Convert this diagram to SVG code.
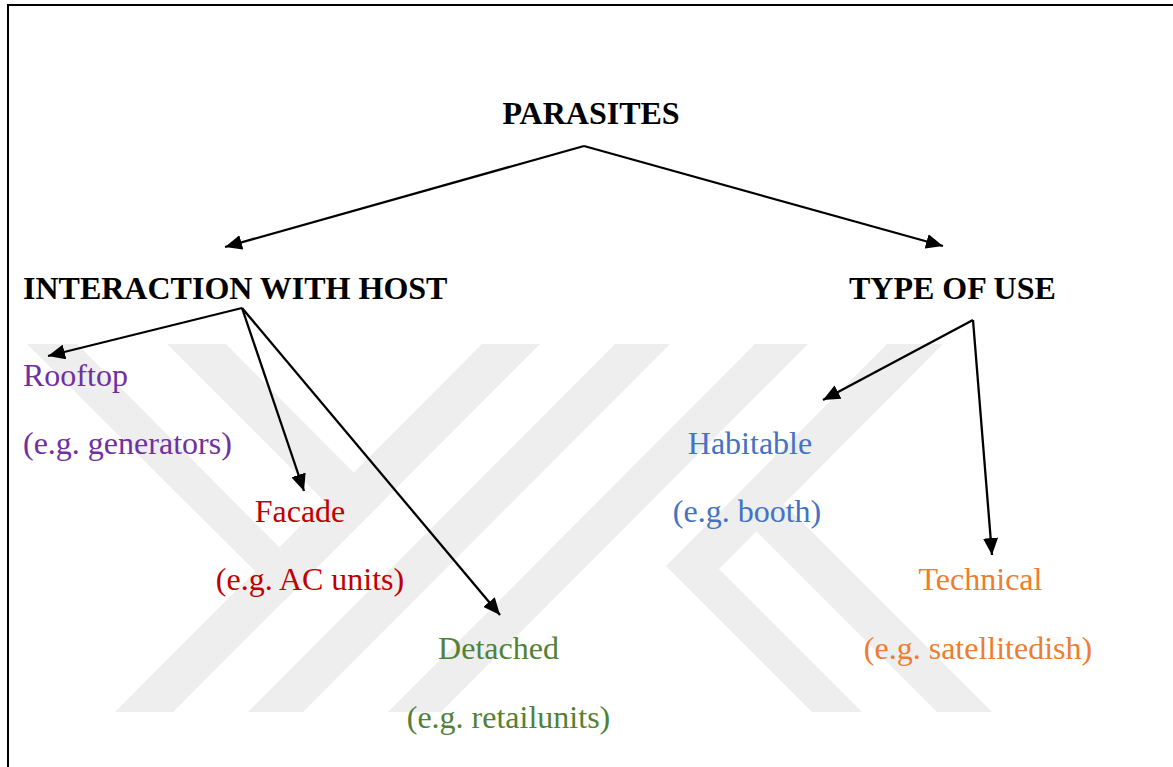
<svg xmlns="http://www.w3.org/2000/svg" width="1173" height="767" viewBox="0 0 1173 767">
  <style>
    .hdr { font-family: "Liberation Serif", "Times New Roman", serif; font-weight: bold; font-size: 32px; fill: #000; }
    .lbl { font-family: "Liberation Serif", "Times New Roman", serif; font-size: 32px; }
    .wm { fill: #eeeeee; }
    .edge { stroke: #000; stroke-width: 2.3; fill: none; marker-end: url(#arrow); }
    .border { stroke: #000; stroke-width: 2; fill: none; }
  </style>
  <defs>
    <marker id="arrow" markerUnits="userSpaceOnUse" markerWidth="18" markerHeight="15" refX="17" refY="7.5" orient="auto" viewBox="0 0 18 15">
      <path d="M0,0 L17,7.5 L0,15 Z" fill="#000"/>
    </marker>
  </defs>
  <rect x="0" y="0" width="1173" height="767" fill="#fff"/>
  <g id="watermark">
    <polygon class="wm" points="27,344 77,344 308.5,576.5 284.5,600.5"/>
    <polygon class="wm" points="167,344 226,344 368.5,487.5 339.5,516.5"/>
    <polygon class="wm" points="482,344 540,344 173,712 115,712"/>
    <polygon class="wm" points="615,344 670,344 303,712 248,712"/>
    <polygon class="wm" points="755,344 808,344 441,712 388,712"/>
    <polygon class="wm" points="887,344 943,344 719,569 862,712 812,712 666,566"/>
    <polygon class="wm" points="742.5,517.5 770,490 992,712 937,712"/>
  </g>
  <g id="border">
    <line class="border" x1="7" y1="5" x2="1173" y2="5"/>
    <line class="border" x1="8" y1="4" x2="8" y2="767"/>
  </g>
  <g id="connectors">
    <line class="edge" x1="584" y1="146" x2="225" y2="247"/>
    <line class="edge" x1="584" y1="146" x2="943" y2="246"/>
    <line class="edge" x1="242" y1="308" x2="48" y2="356"/>
    <line class="edge" x1="242" y1="308" x2="304" y2="491"/>
    <line class="edge" x1="242" y1="308" x2="500" y2="615"/>
    <line class="edge" x1="973" y1="320" x2="823" y2="400"/>
    <line class="edge" x1="973" y1="320" x2="992" y2="555"/>
  </g>
  <g id="node-parasites">
    <text class="hdr" x="591" y="124" text-anchor="middle">PARASITES</text>
  </g>
  <g id="node-interaction">
    <text class="hdr" x="23" y="299">INTERACTION WITH HOST</text>
  </g>
  <g id="node-type">
    <text class="hdr" x="849" y="299">TYPE OF USE</text>
  </g>
  <g id="node-rooftop" fill="#7030A0">
    <text class="lbl" x="23" y="386">Rooftop</text>
    <text class="lbl" x="23" y="454">(e.g. generators)</text>
  </g>
  <g id="node-facade" fill="#C00000">
    <text class="lbl" x="300" y="522" text-anchor="middle">Facade</text>
    <text class="lbl" x="310" y="590" text-anchor="middle">(e.g. AC units)</text>
  </g>
  <g id="node-detached" fill="#538135">
    <text class="lbl" x="498.5" y="659" text-anchor="middle">Detached</text>
    <text class="lbl" x="508.5" y="728" text-anchor="middle">(e.g. retailunits)</text>
  </g>
  <g id="node-habitable" fill="#4472C4">
    <text class="lbl" x="750" y="454" text-anchor="middle">Habitable</text>
    <text class="lbl" x="747" y="522" text-anchor="middle">(e.g. booth)</text>
  </g>
  <g id="node-technical" fill="#ED7D31">
    <text class="lbl" x="980.5" y="590" text-anchor="middle">Technical</text>
    <text class="lbl" x="978" y="659" text-anchor="middle">(e.g. satellitedish)</text>
  </g>
</svg>
